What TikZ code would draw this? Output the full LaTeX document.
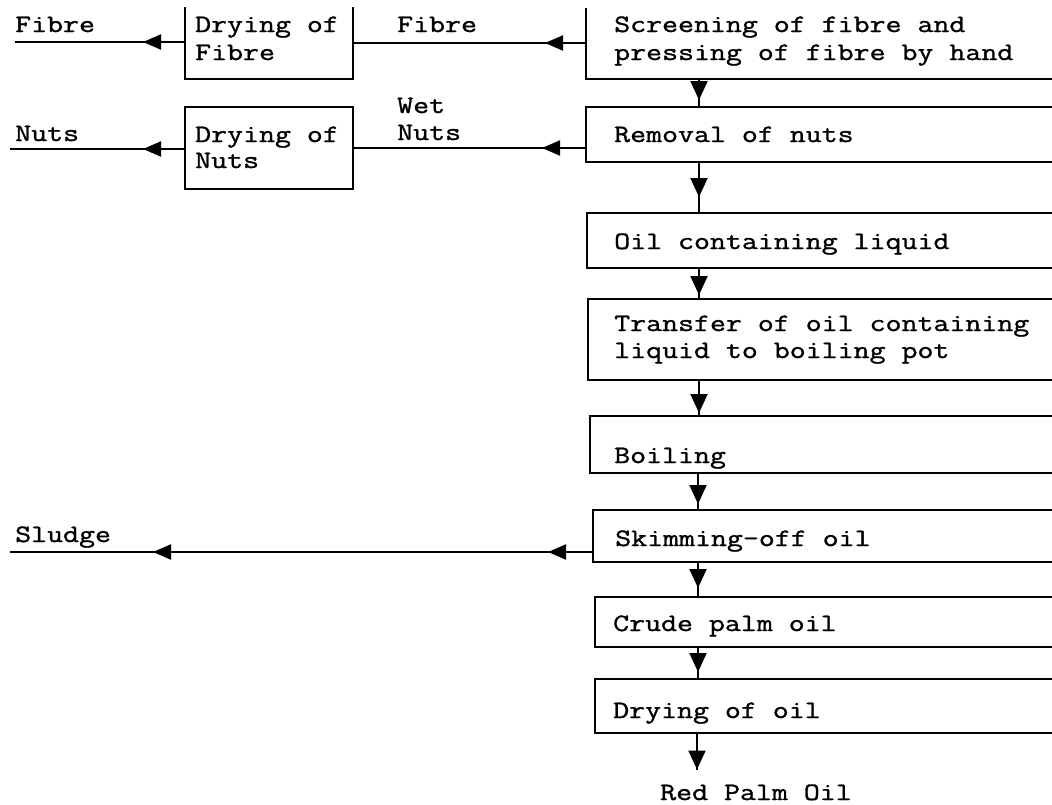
\documentclass[tikz,border=0pt]{standalone}
\usepackage{fontspec}
\newfontfamily\tw{Latin Modern Mono}[FakeStretch=1.24,FakeBold=1.2]
\usetikzlibrary{arrows.meta,decorations.markings}
\tikzset{
  box/.style={inner sep=0pt, outer sep=0pt, line width=2pt},
  boxd/.style={box, draw},
  txt/.style={font=\tw\fontsize{25}{28}\selectfont, inner sep=0pt, anchor=base west},
  line/.style={line width=2pt, line cap=butt},
  tipv/.tip={Triangle[length=19pt,width=17pt]},
  tiph/.tip={Triangle[length=18pt,width=15pt]},
  varr/.style={line, postaction={decorate}, decoration={markings,
      mark=at position -#1 with {\arrow{tipv}}}},
  harr/.style={line, postaction={decorate}, decoration={markings,
      mark=at position #1 with {\arrow{tiph}}}},
  sarr/.style={line, postaction={decorate}, decoration={markings,
      mark=at position 45pt with {\arrow{tiph}},
      mark=at position 440pt with {\arrow{tiph}}}},
}
\begin{document}
\begin{tikzpicture}[x=1pt,y=-1pt]
\useasboundingbox (0,0) rectangle (1052,804);
\clip (0,0) rectangle (1052,804);
\fill[white] (0,0) rectangle (1052,804);

% boxes
\node[box, minimum width=168, minimum height=72] (fibreBox) at (269,43) {};
\node[boxd, minimum width=168, minimum height=82] (nutsBox) at (269,148) {};
\node[box, minimum width=489, minimum height=71] (scr) at (830.5,43.5) {};
\node[boxd, minimum width=489, minimum height=55] (rem) at (830.5,134.5) {};
\node[boxd, minimum width=488, minimum height=55] (oil) at (831,240.5) {};
\node[boxd, minimum width=487, minimum height=81] (trans) at (831.5,339.5) {};
\node[boxd, minimum width=485, minimum height=57] (boil) at (832.5,444.5) {};
\node[boxd, minimum width=482, minimum height=52] (skim) at (834,536) {};
\node[boxd, minimum width=480, minimum height=50] (crude) at (835,622) {};
\node[boxd, minimum width=480, minimum height=54] (dry) at (835,706) {};
\draw[line] (fibreBox.north west) -- (fibreBox.south west) -- (fibreBox.south east) -- (fibreBox.north east);
\draw[line] (scr.north west) -- (scr.south west) -- (scr.south east) -- (scr.north east);

% texts
\node[txt] (tFibreOut) at (15,32) {Fibre};
\node[txt] (tDF1) at (195,32) {Drying of};
\node[txt] (tDF2) at (195,60) {Fibre};
\node[txt] (tFibreMid) at (397,32) {Fibre};
\node[txt] (tNutsOut) at (15,141) {Nuts};
\node[txt] (tDN1) at (195,142) {Drying of};
\node[txt] (tDN2) at (195,168) {Nuts};
\node[txt] (tWet1) at (397,113) {Wet};
\node[txt] (tWet2) at (397,140) {Nuts};
\node[txt] (tScr1) at (614,32) {Screening of fibre and};
\node[txt] (tScr2) at (614,60) {pressing of fibre by hand};
\node[txt] (tRem) at (614,142) {Removal of nuts};
\node[txt] (tOil) at (614,249) {Oil containing liquid};
\node[txt] (tTr1) at (614,331) {Transfer of oil containing};
\node[txt] (tTr2) at (614,358) {liquid to boiling pot};
\node[txt] (tBoil) at (614,463) {Boiling};
\node[txt] (tSkim) at (615,546) {Skimming-off oil};
\node[txt] (tCrude) at (613,631) {Crude palm oil};
\node[txt] (tDry) at (613,718) {Drying of oil};
\node[txt] (tRPO) at (660,800) {Red Palm Oil};
\node[txt] (tSludge) at (15,542) {Sludge};

% free ends
\coordinate (colx) at (699,0);
\coordinate (fo) at (15,42);
\coordinate (no) at (10,149);
\coordinate (sl) at (10,552);
\coordinate (rpo) at (697,770);

% horizontal connectors
\draw[harr=41pt] (fibreBox.east -| scr.west) -- (fibreBox.east);
\draw[harr=42pt] (fibreBox.west |- fo) -- (fo);
\draw[harr=44pt] (nutsBox.east -| rem.west) -- (nutsBox.east);
\draw[harr=42pt] (nutsBox.west |- no) -- (no);
\draw[sarr] (skim.west |- sl) -- (sl);

% vertical connectors
\draw[varr=7pt] (scr.south -| colx) -- (rem.north -| colx);
\draw[varr=16pt] (rem.south -| colx) -- (oil.north -| colx);
\draw[varr=4pt] (oil.south -| colx) -- (trans.north -| colx);
\draw[varr=3pt] (trans.south -| colx) -- (boil.north -| colx);
\draw[varr=6pt] ([xshift=-1pt]boil.south -| colx) -- ([xshift=-1pt]skim.north -| colx);
\draw[varr=9pt] ([xshift=-1pt]skim.south -| colx) -- ([xshift=-1pt]crude.north -| colx);
\draw[varr=7pt] ([xshift=-1pt]crude.south -| colx) -- ([xshift=-1pt]dry.north -| colx);
\draw[varr=0.5pt] (dry.south -| rpo) -- (rpo);
\end{tikzpicture}
\end{document}
